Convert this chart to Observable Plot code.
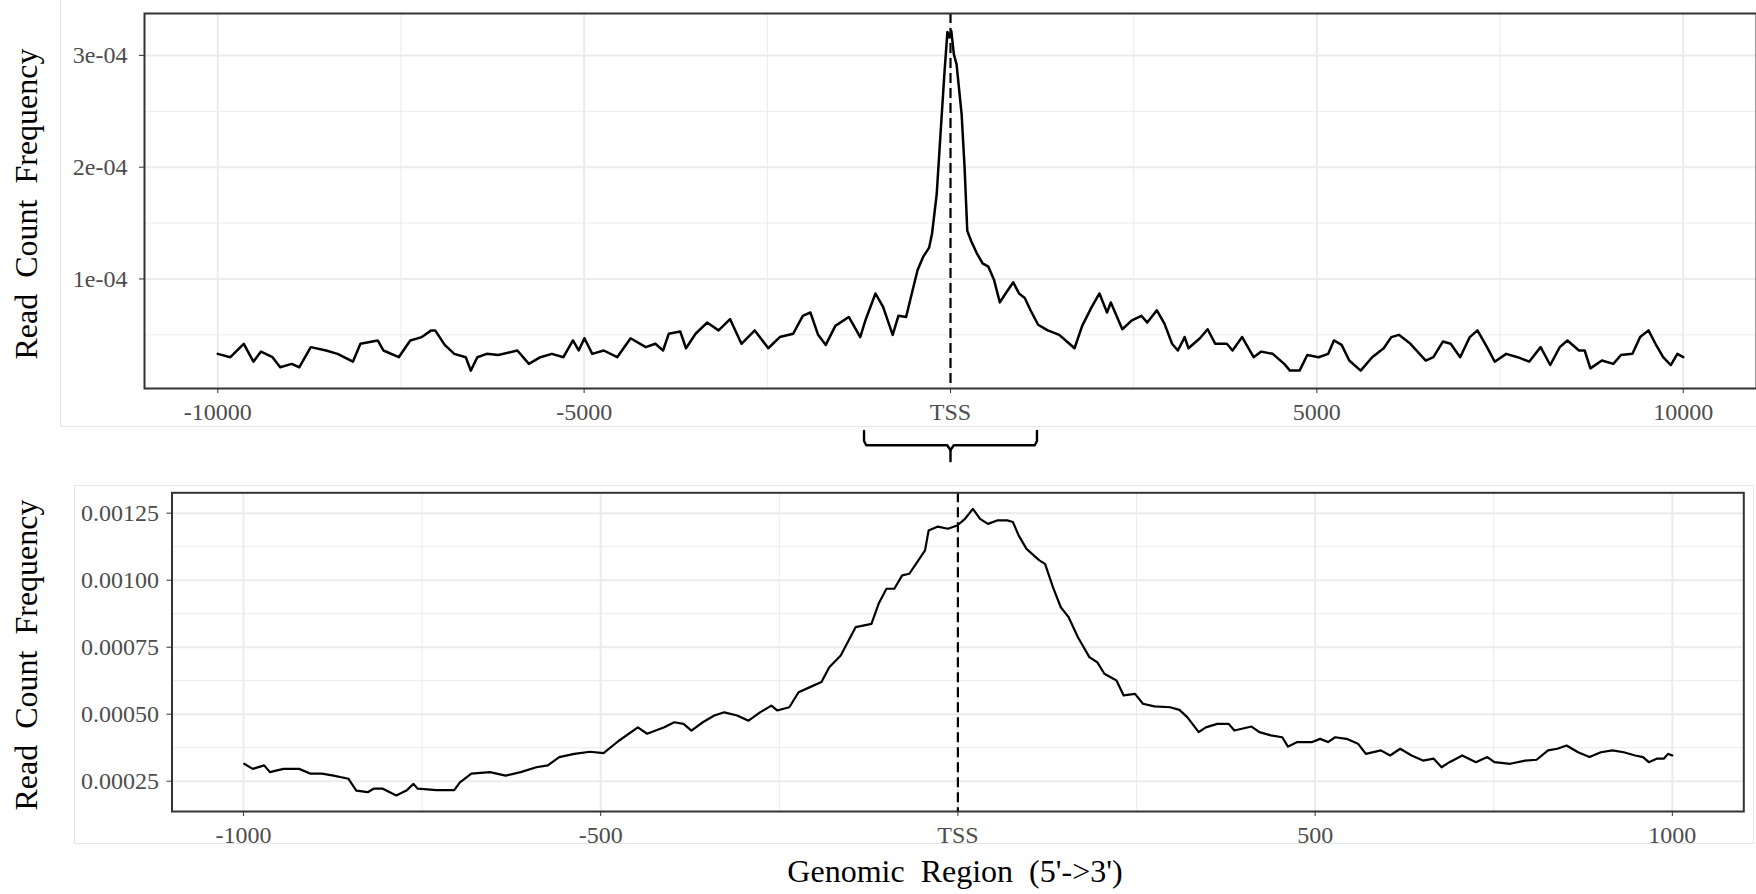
<!DOCTYPE html>
<html>
<head>
<meta charset="utf-8">
<script src="https://cdn.jsdelivr.net/npm/d3@7"></script>
<script src="https://cdn.jsdelivr.net/npm/@observablehq/plot@0.6"></script>
<style>
  html, body { margin: 0; padding: 0; background: #fff; }
  body { width: 1756px; height: 894px; position: relative; overflow: hidden;
         font-family: "Liberation Serif", "Times New Roman", serif; }
  .bg { position: absolute; border: 1px solid #e6e6e6; box-sizing: border-box; }
  .panel { position: absolute; left: 0; }
  .ytitle { position: absolute; font-size: 32px; line-height: 1; white-space: nowrap;
            transform: translate(-50%, -50%) rotate(-90deg); word-spacing: 8px; color: #000; }
  .xtitle { position: absolute; font-size: 32px; line-height: 1; white-space: nowrap;
            transform: translate(-50%, -50%); word-spacing: 8px; color: #000; }
  .panel svg g[aria-label$="tick label"] text { fill: #4d4d4d; }
</style>
</head>
<body>
<div class="bg" style="left:60px; top:-2px; width:1710px; height:429px;"></div>
<div class="bg" style="left:74px; top:485px; width:1680px; height:359px;"></div>
<div id="top" class="panel" style="top:0px;"></div>
<div id="bottom" class="panel" style="top:470px;"></div>
<div class="ytitle" style="left:26px; top:204px;">Read Count Frequency</div>
<div class="ytitle" style="left:26px; top:655px;">Read Count Frequency</div>
<div class="xtitle" style="left:955px; top:871px;">Genomic Region (5'-&gt;3')</div>
<script>
// ---------- Top panel data: position (bp) and read count frequency ----------
const topPos = [
  -10000, -9828, -9645, -9514, -9410, -9253, -9148, -8991, -8888, -8731,
  -8522, -8365, -8156, -8053, -7817, -7739, -7530, -7373, -7216, -7086,
  -7033, -6903, -6772, -6615, -6547, -6458, -6329, -6172, -5911, -5754,
  -5597, -5440, -5283, -5153, -5074, -4996, -4889, -4732, -4549, -4366,
  -4159, -4028, -3923, -3845, -3688, -3610, -3479, -3322, -3165, -3008,
  -2853, -2671, -2487, -2330, -2147, -2016, -1912, -1807, -1702, -1572,
  -1388, -1232, -1156, -1024, -920, -789, -711, -606, -528, -449,
  -371, -292, -251, -188, -136, -83, -42, -16, 11, 46,
  83, 151, 192, 229, 282, 359, 438, 517, 595, 673,
  752, 857, 935, 1014, 1092, 1196, 1327, 1484, 1588, 1693,
  1797, 1928, 2033, 2136, 2188, 2345, 2475, 2606, 2685, 2816,
  2920, 3024, 3103, 3196, 3248, 3404, 3509, 3614, 3771, 3849,
  3980, 4137, 4241, 4398, 4555, 4633, 4764, 4869, 5024, 5155,
  5233, 5338, 5442, 5598, 5755, 5912, 6016, 6120, 6277, 6486,
  6590, 6720, 6826, 6956, 7087, 7192, 7322, 7427, 7584, 7740,
  7897, 8054, 8185, 8315, 8420, 8577, 8655, 8733, 8890, 9046,
  9151, 9307, 9412, 9526, 9621, 9726, 9830, 9920, 10000
];
const topFreq = [
  3.3e-5, 3.0e-5, 4.2e-5, 2.6e-5, 3.5e-5, 3.0e-5, 2.1e-5, 2.4e-5, 2.1e-5, 3.9e-5,
  3.6e-5, 3.3e-5, 2.6e-5, 4.2e-5, 4.5e-5, 3.6e-5, 3.0e-5, 4.5e-5, 4.8e-5, 5.4e-5,
  5.4e-5, 4.1e-5, 3.3e-5, 3.0e-5, 1.8e-5, 3.0e-5, 3.3e-5, 3.2e-5, 3.6e-5, 2.4e-5,
  3.0e-5, 3.3e-5, 3.0e-5, 4.5e-5, 3.6e-5, 4.7e-5, 3.3e-5, 3.6e-5, 3.0e-5, 4.7e-5,
  3.9e-5, 4.2e-5, 3.6e-5, 5.1e-5, 5.3e-5, 3.8e-5, 5.1e-5, 6.1e-5, 5.4e-5, 6.4e-5,
  4.2e-5, 5.4e-5, 3.8e-5, 4.8e-5, 5.1e-5, 6.7e-5, 7.0e-5, 5.0e-5, 4.1e-5, 5.8e-5,
  6.6e-5, 4.8e-5, 6.4e-5, 8.7e-5, 7.5e-5, 5.0e-5, 6.7e-5, 6.6e-5, 8.7e-5, 10.8e-5,
  12.0e-5, 12.8e-5, 14.1e-5, 17.6e-5, 23.0e-5, 28.4e-5, 32.1e-5, 31.6e-5, 32.2e-5, 30.1e-5,
  29.2e-5, 24.8e-5, 20.0e-5, 14.3e-5, 13.4e-5, 12.3e-5, 11.4e-5, 11.1e-5, 9.9e-5, 7.9e-5,
  8.7e-5, 9.7e-5, 8.7e-5, 8.3e-5, 7.2e-5, 5.9e-5, 5.4e-5, 5.0e-5, 4.4e-5, 3.8e-5,
  5.8e-5, 7.5e-5, 8.7e-5, 7.0e-5, 7.9e-5, 5.5e-5, 6.3e-5, 6.7e-5, 6.1e-5, 7.2e-5,
  6.0e-5, 4.2e-5, 3.6e-5, 4.8e-5, 3.8e-5, 4.7e-5, 5.5e-5, 4.2e-5, 4.2e-5, 3.6e-5,
  4.8e-5, 3.0e-5, 3.5e-5, 3.3e-5, 2.4e-5, 1.8e-5, 1.8e-5, 3.2e-5, 3.0e-5, 3.3e-5,
  4.5e-5, 4.1e-5, 2.7e-5, 1.8e-5, 3.0e-5, 3.8e-5, 4.8e-5, 5.0e-5, 4.2e-5, 2.7e-5,
  3.0e-5, 4.4e-5, 4.2e-5, 3.0e-5, 4.8e-5, 5.4e-5, 3.9e-5, 2.6e-5, 3.3e-5, 3.0e-5,
  2.6e-5, 3.9e-5, 2.3e-5, 3.9e-5, 4.5e-5, 3.6e-5, 3.6e-5, 2.0e-5, 2.7e-5, 2.4e-5,
  3.2e-5, 3.3e-5, 4.8e-5, 5.4e-5, 4.2e-5, 3.0e-5, 2.3e-5, 3.3e-5, 3.0e-5
];

// ---------- Bottom panel data ----------
const bottomPos = [
  -999, -987, -971, -963, -944, -922, -906, -890, -874, -853,
  -842, -826, -818, -805, -786, -772, -762, -756, -730, -705,
  -697, -681, -655, -633, -612, -590, -574, -558, -537, -515,
  -496, -475, -448, -435, -411, -397, -384, -373, -357, -341,
  -327, -309, -293, -277, -261, -253, -236, -223, -207, -191,
  -180, -164, -153, -143, -121, -111, -100, -89, -78, -68,
  -57, -46, -41, -28, -14, -1, 10, 21, 31, 42,
  55, 69, 77, 85, 96, 114, 122, 133, 144, 155,
  168, 184, 195, 205, 222, 232, 248, 259, 275, 297,
  310, 321, 332, 337, 347, 363, 379, 387, 411, 422,
  438, 454, 462, 475, 496, 507, 518, 528, 544, 560,
  571, 592, 605, 619, 635, 651, 666, 677, 688, 706,
  725, 741, 751, 773, 794, 810, 826, 839, 852, 868,
  884, 900, 916, 932, 948, 959, 967, 978, 988, 994, 1000
];
const bottomFreq = [
  31.5e-5, 29.6e-5, 30.9e-5, 28.4e-5, 29.6e-5, 29.6e-5, 27.8e-5, 27.8e-5, 27.1e-5, 25.9e-5,
  21.5e-5, 20.9e-5, 22.2e-5, 22.2e-5, 19.7e-5, 21.5e-5, 24.0e-5, 22.2e-5, 21.7e-5, 21.7e-5,
  24.6e-5, 27.8e-5, 28.4e-5, 27.1e-5, 28.4e-5, 30.2e-5, 30.9e-5, 34.0e-5, 35.2e-5, 36.0e-5,
  35.5e-5, 40.0e-5, 45.1e-5, 42.7e-5, 45.1e-5, 47.0e-5, 46.4e-5, 43.9e-5, 47.0e-5, 49.5e-5,
  50.7e-5, 49.5e-5, 47.6e-5, 50.7e-5, 53.2e-5, 51.4e-5, 52.6e-5, 58.2e-5, 60.1e-5, 62.0e-5,
  67.5e-5, 71.9e-5, 77.5e-5, 82.5e-5, 83.7e-5, 91.2e-5, 96.8e-5, 96.8e-5, 101.8e-5, 102.4e-5,
  106.7e-5, 111.1e-5, 118.5e-5, 120.0e-5, 119.2e-5, 120.4e-5, 122.9e-5, 126.6e-5, 122.9e-5, 121.0e-5,
  122.3e-5, 122.3e-5, 121.7e-5, 116.7e-5, 111.7e-5, 107.4e-5, 106.1e-5, 97.4e-5, 89.9e-5, 86.2e-5,
  78.7e-5, 71.3e-5, 69.4e-5, 65.1e-5, 62.6e-5, 57.0e-5, 57.6e-5, 53.9e-5, 52.9e-5, 52.6e-5,
  51.6e-5, 48.9e-5, 45.1e-5, 43.3e-5, 45.1e-5, 46.4e-5, 46.4e-5, 43.9e-5, 45.4e-5, 43.3e-5,
  42.1e-5, 41.4e-5, 37.9e-5, 39.6e-5, 39.6e-5, 40.8e-5, 39.6e-5, 41.4e-5, 40.8e-5, 39.0e-5,
  35.2e-5, 36.5e-5, 34.6e-5, 37.1e-5, 34.6e-5, 32.7e-5, 33.4e-5, 30.2e-5, 32.1e-5, 34.6e-5,
  32.1e-5, 34.0e-5, 32.1e-5, 31.5e-5, 32.7e-5, 33.0e-5, 36.5e-5, 37.1e-5, 38.3e-5, 35.8e-5,
  34.0e-5, 35.8e-5, 36.5e-5, 35.8e-5, 34.6e-5, 34.0e-5, 32.1e-5, 33.4e-5, 33.4e-5, 35.2e-5, 34.6e-5
];

// ---------- Ticks and labels ----------
const topXTicks = [-10000, -5000, 0, 5000, 10000];
const topXMinor = [-7500, -2500, 2500, 7500];
const topYTicks = [1e-4, 2e-4, 3e-4];
const topYLabels = ["1e-04", "2e-04", "3e-04"];
const topYMinor = [0.5e-4, 1.5e-4, 2.5e-4];

const bottomXTicks = [-1000, -500, 0, 500, 1000];
const bottomXMinor = [-750, -250, 250, 750];
const bottomYTicks = [0.00025, 0.0005, 0.00075, 0.001, 0.00125];
const bottomYLabels = ["0.00025", "0.00050", "0.00075", "0.00100", "0.00125"];
const bottomYMinor = [0.000375, 0.000625, 0.000875, 0.001125];

const tssLabel = "TSS";

// Bracket linking the TSS region of the top panel to the zoomed panel (data coords of top panel)
const bracketX = [-1180, -1180, -1150, -45, 0, 0,   1180, 1180, 1150, 45, 0];
const bracketY = [-3.6e-5, -4.5e-5, -4.88e-5, -4.88e-5, -5.3e-5, -6.3e-5,
                  -3.6e-5, -4.5e-5, -4.88e-5, -4.88e-5, -5.3e-5];
const bracketSide = ["L","L","L","L","L","L","R","R","R","R","R"];

const topData = topPos.map((x, i) => ({x, y: topFreq[i]}));
const bottomData = bottomPos.map((x, i) => ({x, y: bottomFreq[i]}));
const bracketData = bracketX.map((x, i) => ({x, y: bracketY[i], s: bracketSide[i]}));

const xFmt = d => d === 0 ? tssLabel : String(d);
const gridMajor = "#ebebeb";

function panel(opts) {
  return Plot.plot({
    width: 1756,
    height: opts.height,
    marginLeft: opts.ml, marginRight: opts.mr, marginTop: opts.mt, marginBottom: opts.mb,
    style: {background: "transparent", fontFamily: "'Liberation Serif', 'Times New Roman', serif",
            fontSize: "24px", color: "#333", overflow: "visible"},
    x: {domain: opts.xDomain, label: null},
    y: {domain: opts.yDomain, label: null},
    marks: [
      Plot.gridX(opts.xMinor, {stroke: gridMajor, strokeOpacity: 1, strokeWidth: 1}),
      Plot.gridY(opts.yMinor, {stroke: gridMajor, strokeOpacity: 1, strokeWidth: 1}),
      Plot.gridX(opts.xTicks, {stroke: gridMajor, strokeOpacity: 1, strokeWidth: 2}),
      Plot.gridY(opts.yTicks, {stroke: gridMajor, strokeOpacity: 1, strokeWidth: 2}),
      Plot.line(opts.data, {x: "x", y: "y", stroke: "#000", strokeWidth: opts.lw, strokeLinejoin: "round"}),
      Plot.ruleX([0], {stroke: "#000", strokeWidth: 2.2, strokeDasharray: "10,5"}),
      Plot.frame({stroke: "#333", strokeWidth: 2}),
      Plot.axisX(opts.xTicks, {tickFormat: xFmt, tickSize: 5, tickPadding: 9, label: null, fontSize: 24}),
      Plot.axisY(opts.yTicks, {tickFormat: (d, i) => opts.yLabels[opts.yTicks.indexOf(d)], tickSize: 5,
                               tickPadding: opts.yPad, label: null, fontSize: 24}),
      ...(opts.extra || [])
    ]
  });
}

document.getElementById("top").appendChild(panel({
  height: 470, ml: 144, mr: 0, mt: 13, mb: 82,
  xDomain: [-11000, 11000], yDomain: [2e-6, 3.375e-4],
  xTicks: topXTicks, xMinor: topXMinor, yTicks: topYTicks, yMinor: topYMinor, yLabels: topYLabels,
  yPad: 12, data: topData, lw: 2.5,
  extra: [Plot.line(bracketData, {x: "x", y: "y", z: "s", stroke: "#000", strokeWidth: 2.4,
                                  strokeLinejoin: "round", curve: "linear"})]
}));

document.getElementById("bottom").appendChild(panel({
  height: 424, ml: 171.5, mr: 12.7, mt: 22.3, mb: 83,
  xDomain: [-1100, 1100], yDomain: [0.000137, 0.001326],
  xTicks: bottomXTicks, xMinor: bottomXMinor, yTicks: bottomYTicks, yMinor: bottomYMinor, yLabels: bottomYLabels,
  yPad: 8, data: bottomData, lw: 2.2
}));
</script>
</body>
</html>
